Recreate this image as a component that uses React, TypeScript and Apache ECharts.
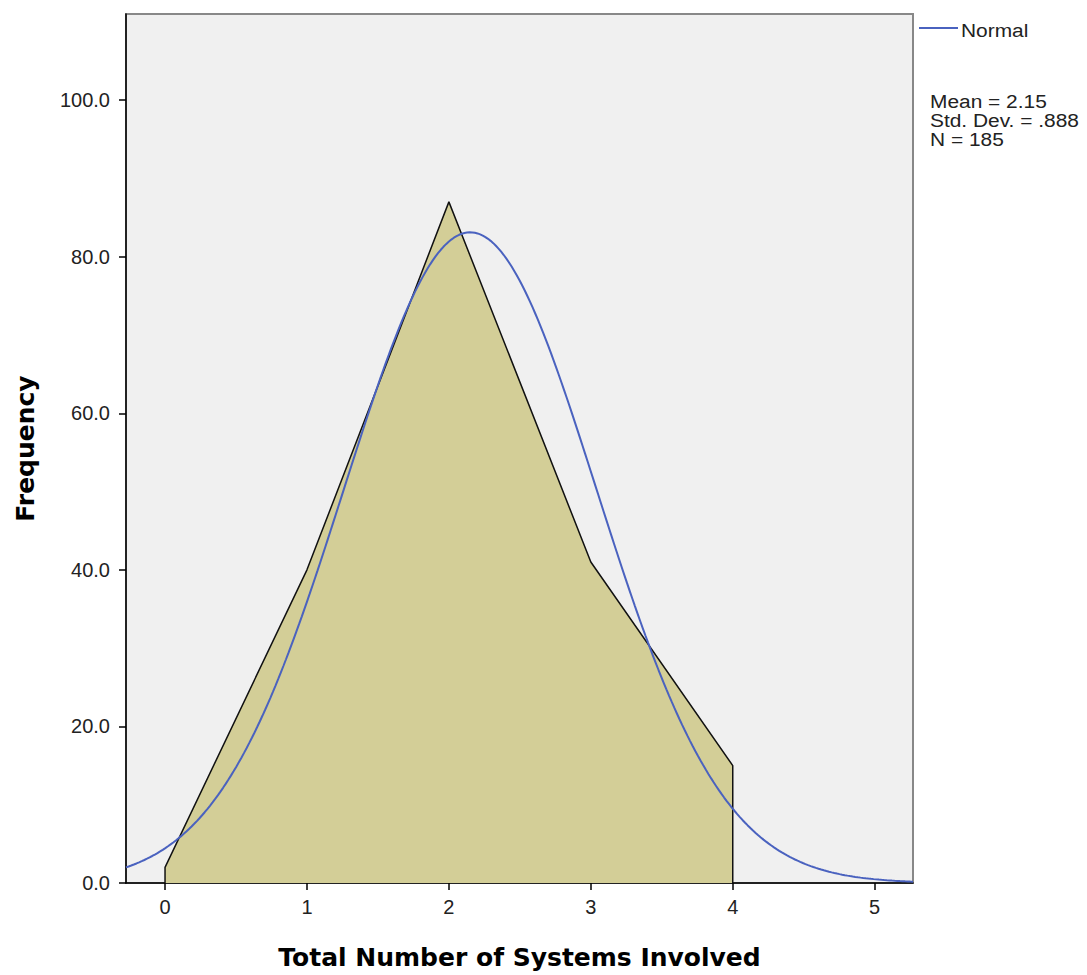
import React, { useEffect, useRef } from "react";
import * as echarts from "echarts";

// Frequency polygon of total systems involved, with fitted normal curve
const systemCounts = [0, 1, 2, 3, 4];
const frequencies = [2, 40, 87, 41, 15];
const yTicks = [0, 20, 40, 60, 80, 100];
const xTicks = [0, 1, 2, 3, 4, 5];

const mean = 2.15;
const stdDev = 0.888;
const n = 185;
const binWidth = 1;

const xMin = -0.275;
const xMax = 5.27;
const yMax = 111;

const BLUE = "#4a62bf";
const FILL = "#d3ce97";
const LABEL_FONT = "'Liberation Sans', Arial, sans-serif";
const TITLE_FONT = "'DejaVu Sans', Verdana, sans-serif";

function normalCurve(): number[][] {
  const pts: number[][] = [];
  const steps = 300;
  for (let i = 0; i <= steps; i++) {
    const x = xMin + ((xMax - xMin) * i) / steps;
    const z = (x - mean) / stdDev;
    const y = (n * binWidth * Math.exp(-0.5 * z * z)) / (stdDev * Math.sqrt(2 * Math.PI));
    pts.push([x, y]);
  }
  return pts;
}

const statLines = [
  `Mean = ${mean.toFixed(2)}`,
  `Std. Dev. = ${stdDev.toFixed(3).replace(/^0/, "")}`,
  `N = ${n}`,
];

export default function App() {
  const ref = useRef<HTMLDivElement>(null);

  useEffect(() => {
    if (!ref.current) return;
    const chart = echarts.init(ref.current, undefined, { renderer: "svg" });

    const polygon: number[][] = [[systemCounts[0], 0]];
    systemCounts.forEach((c, i) => polygon.push([c, frequencies[i]]));
    polygon.push([systemCounts[systemCounts.length - 1], 0]);

    const statTexts = statLines.map((line, i) => ({
      type: "text",
      x: 930,
      y: 92 + i * 19,
      scaleX: 1.1,
      style: {
        text: line,
        font: `19px ${LABEL_FONT}`,
        fill: "#222",
        verticalAlign: "top",
      },
    }));

    chart.setOption({
      animation: false,
      backgroundColor: "#ffffff",
      grid: {
        left: 126,
        top: 14,
        right: 174,
        bottom: 90,
        show: true,
        backgroundColor: "#f0f0f0",
        borderColor: "#888888",
        borderWidth: 2,
      },
      xAxis: {
        type: "value",
        min: xMin,
        max: xMax,
        name: "Total Number of Systems Involved",
        nameLocation: "middle",
        nameGap: 62,
        nameTextStyle: {
          fontFamily: TITLE_FONT,
          fontWeight: "bold",
          fontSize: 25,
          color: "#000",
        },
        axisLine: { show: true, onZero: false, lineStyle: { color: "#000", width: 1.5 } },
        axisTick: {
          show: true,
          length: 7,
          customValues: xTicks,
          lineStyle: { color: "#000", width: 1.5 },
        },
        axisLabel: {
          customValues: xTicks,
          margin: 14,
          fontFamily: LABEL_FONT,
          fontSize: 20,
          color: "#222",
          formatter: (v: number) => String(v),
        },
        splitLine: { show: false },
      },
      yAxis: {
        type: "value",
        min: 0,
        max: yMax,
        name: "Frequency",
        nameLocation: "middle",
        nameGap: 88,
        nameTextStyle: {
          fontFamily: TITLE_FONT,
          fontWeight: "bold",
          fontSize: 25,
          color: "#000",
        },
        axisLine: { show: true, onZero: false, lineStyle: { color: "#000", width: 1.5 } },
        axisTick: {
          show: true,
          length: 7,
          customValues: yTicks,
          lineStyle: { color: "#000", width: 1.5 },
        },
        axisLabel: {
          customValues: yTicks,
          margin: 16,
          fontFamily: LABEL_FONT,
          fontSize: 20,
          color: "#222",
          formatter: (v: number) => v.toFixed(1),
        },
        splitLine: { show: false },
      },
      series: [
        {
          name: "Frequency",
          type: "line",
          data: polygon,
          symbol: "none",
          lineStyle: { color: "#111", width: 1.5 },
          areaStyle: { color: FILL, opacity: 1 },
          z: 2,
        },
        {
          name: "Normal",
          type: "line",
          data: normalCurve(),
          symbol: "none",
          smooth: false,
          lineStyle: { color: BLUE, width: 2 },
          z: 3,
        },
      ],
      graphic: [
        {
          type: "line",
          shape: { x1: 919, y1: 28, x2: 958, y2: 28 },
          style: { stroke: BLUE, lineWidth: 2 },
        },
        {
          type: "text",
          x: 961,
          y: 30,
          scaleX: 1.1,
          style: {
            text: "Normal",
            font: `19px ${LABEL_FONT}`,
            fill: "#222",
            verticalAlign: "middle",
          },
        },
        ...statTexts,
      ],
    });

    return () => chart.dispose();
  }, []);

  return (
    <div
      ref={ref}
      style={{ position: "fixed", left: 0, top: 0, width: 1087, height: 975 }}
    />
  );
}
